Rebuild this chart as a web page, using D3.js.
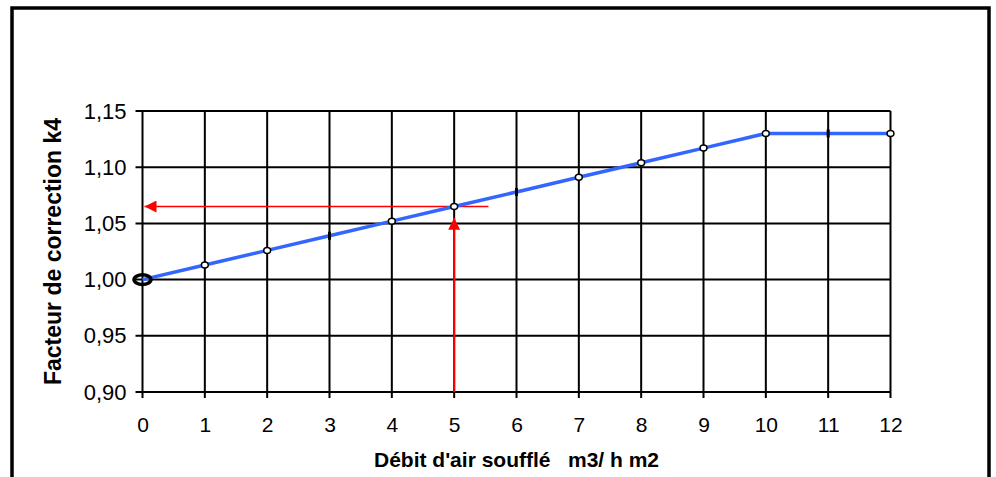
<!DOCTYPE html>
<html><head><meta charset="utf-8">
<script src="https://cdn.jsdelivr.net/npm/d3@7"></script>
<style>
html,body{margin:0;padding:0;background:#fff;}
svg{display:block;}
text{font-family:"Liberation Sans",Arial,sans-serif;fill:#000;}
</style></head>
<body>
<svg id="c" width="996" height="477"></svg>
<script>
const categories = [0,1,2,3,4,5,6,7,8,9,10,11,12];
const k4Values = [1.000,1.013,1.026,1.039,1.052,1.065,1.078,1.091,1.104,1.117,1.130,1.130,1.130];
const yTicks = [0.90,0.95,1.00,1.05,1.10,1.15];
const hiddenMarkers = [3,6,11];
const readH = {value:1.065, from:5.55, to:0};
const readV = {cat:5, from:0.90, to:1.055};
const xTitle = "Débit d'air soufflé   m3/ h m2";
const yTitle = "Facteur de correction k4";

const svg = d3.select("#c");
const x = d3.scaleLinear().domain([0,12]).range([142.5,890.5]);
const y = d3.scaleLinear().domain([0.90,1.15]).range([392,111]);

// outer frame
svg.append("rect").attr("x",12).attr("y",8).attr("width",977).attr("height",520)
  .attr("fill","none").attr("stroke","#000").attr("stroke-width",3.5);

const locale = d3.formatLocale({decimal:",",thousands:" ",grouping:[3],currency:["","€"]});
const fmt = locale.format(".2f");

// grid
const g = svg.append("g");
g.selectAll("line.h").data(yTicks).join("line")
  .attr("x1",x(0)-7).attr("x2",x(12)).attr("y1",d=>y(d)).attr("y2",d=>y(d))
  .attr("stroke","#000").attr("stroke-width",2);
g.selectAll("line.v").data(categories).join("line")
  .attr("x1",d=>x(d)).attr("x2",d=>x(d)).attr("y1",y(1.15)).attr("y2",y(0.90)+6)
  .attr("stroke","#000").attr("stroke-width",2);

// axes labels via d3 axes
const yAxis = d3.axisLeft(y).tickValues(yTicks).tickFormat(fmt).tickSize(0).tickPadding(16);
const ya = svg.append("g").attr("transform",`translate(${x(0)},0)`).call(yAxis);
ya.select(".domain").remove();
ya.selectAll("text").attr("font-size",22).attr("font-family","Liberation Sans, Arial, sans-serif");

const xAxis = d3.axisBottom(x).tickValues(categories).tickFormat(d3.format("d")).tickSize(0).tickPadding(25);
const xa = svg.append("g").attr("transform",`translate(0,${y(0.90)})`).call(xAxis);
xa.select(".domain").remove();
xa.selectAll("text").attr("font-size",21).attr("font-family","Liberation Sans, Arial, sans-serif");

// red reading lines
svg.append("defs").html(`
<marker id="ah" viewBox="0 0 12 12" refX="12" refY="6" markerWidth="12" markerHeight="12" markerUnits="userSpaceOnUse" orient="auto">
<path d="M0,0 L12,6 L0,12 Z" fill="#ff0000"/></marker>`);
svg.append("line").attr("x1",x(readH.from)).attr("x2",x(readH.to)+2).attr("y1",y(readH.value)).attr("y2",y(readH.value))
  .attr("stroke","#ff0000").attr("stroke-width",1.6).attr("marker-end","url(#ah)");
svg.append("line").attr("x1",x(readV.cat)).attr("x2",x(readV.cat)).attr("y1",y(readV.from)).attr("y2",y(readV.to))
  .attr("stroke","#ff0000").attr("stroke-width",2).attr("marker-end","url(#ah)");

// series line
const pts = categories.map((c,i)=>({c, v:k4Values[i]}));
svg.append("path").datum(pts)
  .attr("d", d3.line().x(d=>x(d.c)).y(d=>y(d.v)))
  .attr("fill","none").attr("stroke","#3366ff").attr("stroke-width",3.5);

// markers
svg.selectAll("ellipse.m").data(pts.filter(d=>d.c!==0 && !hiddenMarkers.includes(d.c))).join("ellipse")
  .attr("cx",d=>x(d.c)).attr("cy",d=>y(d.v)).attr("rx",3.4).attr("ry",3)
  .attr("fill","#fff").attr("stroke","#000").attr("stroke-width",1.5);
svg.selectAll("rect.m").data(pts.filter(d=>hiddenMarkers.includes(d.c))).join("rect")
  .attr("x",d=>x(d.c)-1.5).attr("y",d=>y(d.v)-4).attr("width",3).attr("height",8).attr("fill","#000");
svg.append("ellipse").attr("cx",x(0)).attr("cy",y(k4Values[0])).attr("rx",8.5).attr("ry",4.8)
  .attr("fill","none").attr("stroke","#000").attr("stroke-width",3.5);

// titles
svg.append("text").attr("x",(x(0)+x(12))/2).attr("y",467).attr("text-anchor","middle")
  .attr("font-size",21).attr("font-weight","bold").style("white-space","pre").text(xTitle);
svg.append("text").attr("transform",`translate(61,${(y(0.90)+y(1.15))/2}) rotate(-90)`).attr("text-anchor","middle")
  .attr("font-size",23).attr("font-weight","bold").text(yTitle);
</script>
</body></html>
